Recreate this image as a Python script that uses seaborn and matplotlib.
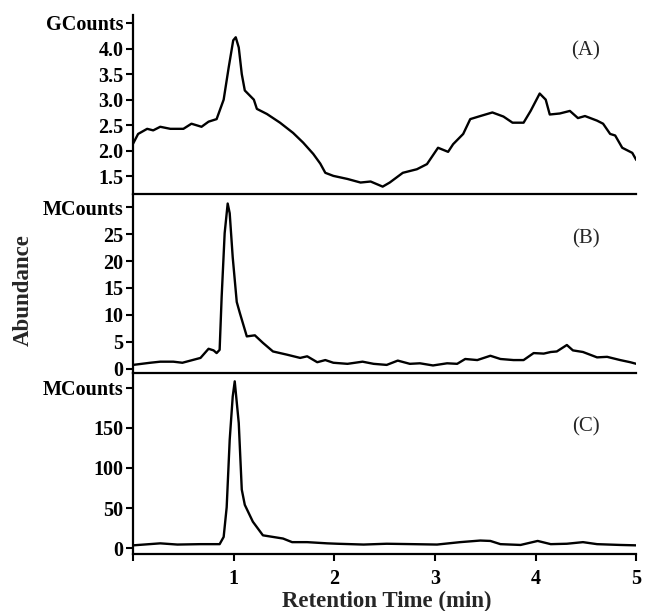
import numpy as np
import pandas as pd
import matplotlib
matplotlib.use("Agg")
import matplotlib.pyplot as plt
import seaborn as sns

# ── DATA ────────────────────────────────────────────────────
time_a = [0.00, 0.05, 0.14, 0.20, 0.27, 0.37, 0.50, 0.58, 0.68, 0.75, 0.83,
          0.90, 0.95, 0.995, 1.02, 1.05, 1.08, 1.11, 1.16, 1.20, 1.23, 1.33,
          1.46, 1.59, 1.69, 1.79, 1.86, 1.91, 1.99, 2.13, 2.26, 2.36, 2.48,
          2.55, 2.68, 2.82, 2.92, 3.03, 3.13, 3.18, 3.28, 3.35, 3.45, 3.57,
          3.68, 3.77, 3.88, 3.95, 4.04, 4.10, 4.14, 4.24, 4.34, 4.42, 4.49,
          4.61, 4.67, 4.74, 4.79, 4.86, 4.96, 5.00]
abund_a = [2.14, 2.33, 2.43, 2.40, 2.47, 2.43, 2.43, 2.53, 2.47, 2.57, 2.62,
           3.00, 3.63, 4.16, 4.22, 4.02, 3.50, 3.18, 3.08, 3.00, 2.82, 2.72,
           2.55, 2.35, 2.16, 1.94, 1.75, 1.57, 1.51, 1.45, 1.38, 1.40, 1.30,
           1.38, 1.57, 1.64, 1.74, 2.06, 1.98, 2.13, 2.33, 2.62, 2.68, 2.75,
           2.67, 2.55, 2.55, 2.78, 3.12, 3.00, 2.71, 2.73, 2.78, 2.64, 2.68,
           2.59, 2.53, 2.33, 2.30, 2.06, 1.96, 1.82]

time_b = [0.00, 0.17, 0.27, 0.40, 0.49, 0.57, 0.67, 0.75, 0.80, 0.83, 0.86,
          0.88, 0.91, 0.94, 0.96, 0.99, 1.03, 1.06, 1.13, 1.21, 1.29, 1.39,
          1.53, 1.66, 1.73, 1.83, 1.91, 1.99, 2.13, 2.28, 2.39, 2.52, 2.63,
          2.75, 2.85, 2.98, 3.12, 3.22, 3.30, 3.42, 3.55, 3.65, 3.78, 3.88,
          3.98, 4.08, 4.15, 4.21, 4.31, 4.37, 4.47, 4.61, 4.71, 4.84, 4.94,
          5.00]
abund_b = [0.7, 1.1, 1.3, 1.3, 1.1, 1.5, 2.0, 3.7, 3.4, 2.9, 3.5,
           13.3, 25.2, 30.7, 28.9, 20.7, 12.4, 10.4, 6.0, 6.2, 4.8, 3.2,
           2.6, 2.0, 2.3, 1.2, 1.6, 1.1, 0.9, 1.3, 0.9, 0.7, 1.5,
           0.9, 1.0, 0.6, 1.0, 0.9, 1.8, 1.6, 2.4, 1.8, 1.6, 1.6,
           2.9, 2.8, 3.1, 3.2, 4.4, 3.4, 3.1, 2.1, 2.2, 1.6, 1.2,
           0.9]

time_c = [0.00, 0.27, 0.44, 0.67, 0.86, 0.90, 0.93, 0.96, 0.99, 1.01, 1.05,
          1.08, 1.11, 1.19, 1.29, 1.39, 1.49, 1.58, 1.73, 1.93, 2.03, 2.29,
          2.52, 2.78, 3.02, 3.25, 3.45, 3.55, 3.65, 3.85, 4.02, 4.15, 4.31,
          4.47, 4.61, 4.84, 5.00]
abund_c = [3.5, 6.0, 4.5, 5.0, 5.0, 14, 51, 135, 189, 208, 156,
           73, 54, 33, 16, 14, 12, 7.5, 7.5, 6.0, 5.5, 4.5,
           5.5, 5.0, 4.5, 7.5, 9.5, 9.0, 5.0, 4.0, 9.0, 5.0, 5.5,
           7.5, 5.0, 4.0, 3.5]

panel_labels = ["(A)", "(B)", "(C)"]
unit_labels = ["GCounts", "MCounts", "MCounts"]
y_ticks = [[1.5, 2.0, 2.5, 3.0, 3.5, 4.0], [0, 5, 10, 15, 20, 25], [0, 50, 100, 150]]
y_tick_text = [["1.5", "2.0", "2.5", "3.0", "3.5", "4.0"],
               ["0", "5", "10", "15", "20", "25"],
               ["0", "50", "100", "150"]]
unit_tick = [4.5, 30, 200]
y_limits = [(1.15, 4.65), (-0.75, 32.3), (-7.5, 218.75)]
x_ticks = [0, 1, 2, 3, 4, 5]
x_tick_text = ["", "1", "2", "3", "4", "5"]

# ── STYLE ───────────────────────────────────────────────────
sns.set_style("ticks")
plt.rcParams["font.family"] = ["Liberation Serif", "DejaVu Serif"]
plt.rcParams["font.weight"] = "bold"

fig = plt.figure(figsize=(6.46, 6.11), dpi=100)
left, width = 0.206, 0.779
bounds = [(0.682, 0.975), (0.390, 0.681), (0.093, 0.390)]

series = [(time_a, abund_a), (time_b, abund_b), (time_c, abund_c)]

for i, ((t, v), (b, top)) in enumerate(zip(series, bounds)):
    ax = fig.add_axes([left, b, width, top - b])
    df = pd.DataFrame({"Time": t, "Abundance": v})
    sns.lineplot(data=df, x="Time", y="Abundance", ax=ax, color="black",
                 linewidth=1.7, sort=False)
    ax.set_xlim(0, 5)
    ax.set_ylim(*y_limits[i])
    ax.set_xlabel("")
    ax.set_ylabel("")
    for side in ["top", "right"]:
        ax.spines[side].set_visible(False)
    for side in ["left", "bottom"]:
        ax.spines[side].set_linewidth(1.6)
        ax.spines[side].set_color("black")

    ax.set_yticks(y_ticks[i] + [unit_tick[i]])
    ax.set_yticklabels(y_tick_text[i] + [unit_labels[i]], fontsize=14.5, fontweight="bold")
    ax.tick_params(axis="y", direction="out", length=5, width=1.5, pad=2, colors="black")

    if i < 2:
        ax.set_xticks([])
    else:
        ax.set_xticks(x_ticks)
        ax.set_xticklabels(x_tick_text, fontsize=14.5, fontweight="bold")
        ax.tick_params(axis="x", direction="out", length=5, width=1.5, pad=6, colors="black")

    ax.text(0.9, [0.80, 0.75, 0.70][i], panel_labels[i], transform=ax.transAxes,
            fontsize=15, fontweight="normal", ha="center", va="center")
    ax.patch.set_alpha(0)

fig.text(0.036, 0.525, "Abundance", rotation=90, fontsize=16.5, fontweight="bold",
         ha="center", va="center")
fig.text(0.599, 0.016, "Retention Time (min)", fontsize=16.5, fontweight="bold",
         ha="center", va="center")

plt.savefig("out.png", dpi=100)
